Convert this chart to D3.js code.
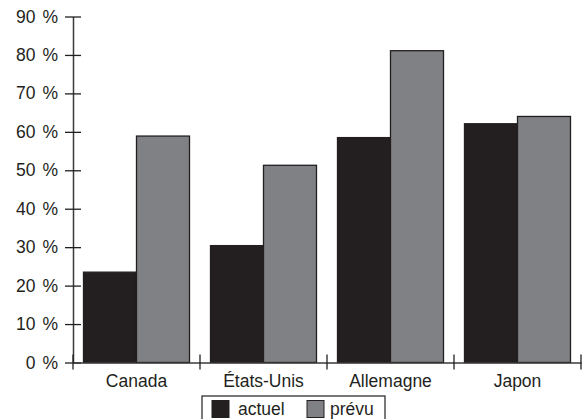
<!DOCTYPE html>
<html>
<head>
<meta charset="utf-8">
<script src="https://cdn.jsdelivr.net/npm/d3@7"></script>
<style>
  html, body { margin: 0; padding: 0; background: #fff; }
  svg { display: block; font-family: "Liberation Sans", Arial, sans-serif; }
</style>
</head>
<body>
<svg id="chart" width="586" height="419"></svg>
<script>
// Categories and series (values in %)
const categories = ["Canada", "États-Unis", "Allemagne", "Japon"];
const seriesNames = ["actuel", "prévu"];
const actuel = [23.5, 30.4, 58.5, 62.1];
const prevu = [58.9, 51.3, 81.1, 64.0];
const yTicks = [0, 10, 20, 30, 40, 50, 60, 70, 80, 90];

const ink = "#231f20";
const colors = { "actuel": "#231f20", "prévu": "#808184" };

const svg = d3.select("#chart");
const x0 = 73, x1 = 581, yBottom = 362.5, yTop = 16.5;

const x = d3.scaleBand().domain(categories).range([x0, x1]).padding(0);
const xSub = d3.scaleBand().domain(seriesNames)
  .range([10.5, x.bandwidth() - 10.5]).padding(0);
const y = d3.scaleLinear().domain([0, 90]).range([yBottom, yTop]);

const rows = categories.map((c, i) => ({ cat: c, vals: [
  { key: "actuel", v: actuel[i] }, { key: "prévu", v: prevu[i] } ] }));

// Bars
const g = svg.append("g");
const groups = g.selectAll("g.cat").data(rows).join("g")
  .attr("transform", d => `translate(${x(d.cat)},0)`);
groups.selectAll("rect").data(d => d.vals).join("rect")
  .attr("x", d => xSub(d.key))
  .attr("y", d => y(d.v))
  .attr("width", xSub.bandwidth())
  .attr("height", d => y(0) - y(d.v))
  .attr("fill", d => colors[d.key])
  .attr("stroke", ink)
  .attr("stroke-width", 1.3);

// Y axis
const yAxis = d3.axisLeft(y).tickValues(yTicks)
  .tickFormat(d => d + "\u2009\u2009%").tickSize(0).tickPadding(15);
const ya = svg.append("g").attr("transform", `translate(${x0},0)`).call(yAxis);
ya.select(".domain").attr("stroke", "#3a3a3a").attr("stroke-width", 1.5);
ya.selectAll(".tick line").attr("x1", -8).attr("x2", 8)
  .attr("stroke", ink).attr("stroke-width", 1.3);
ya.selectAll(".tick text").attr("font-size", 17.5).attr("fill", ink)
  .attr("font-family", "Liberation Sans, Arial, sans-serif");

// X axis with boundary ticks between categories
const xAxis = d3.axisBottom(x).tickSize(0).tickPadding(12);
const xa = svg.append("g").attr("transform", `translate(0,${yBottom})`).call(xAxis);
xa.select(".domain").attr("stroke", "#3a3a3a").attr("stroke-width", 1.5);
xa.selectAll(".tick text").attr("font-size", 17.5).attr("fill", ink)
  .attr("font-family", "Liberation Sans, Arial, sans-serif");
const bounds = categories.map(c => x(c) + x.bandwidth()).concat([x0]);
xa.selectAll("line.bound").data(bounds).join("line")
  .attr("class", "bound")
  .attr("x1", d => d).attr("x2", d => d)
  .attr("y1", -8).attr("y2", 7)
  .attr("stroke", ink).attr("stroke-width", 1.3);

// Legend
const lg = svg.append("g").attr("transform", "translate(202,396)");
lg.append("rect").attr("x", 0).attr("y", 0).attr("width", 183).attr("height", 30)
  .attr("fill", "#fff").attr("stroke", ink).attr("stroke-width", 1.2);
const items = [
  { key: "actuel", sx: 10, tx: 36 },
  { key: "prévu", sx: 105, tx: 128 }
];
items.forEach(it => {
  lg.append("rect").attr("x", it.sx).attr("y", 4.5).attr("width", 17).attr("height", 17)
    .attr("fill", colors[it.key]).attr("stroke", ink).attr("stroke-width", 1);
  lg.append("text").attr("x", it.tx).attr("y", 19).attr("font-size", 17.5)
    .attr("fill", ink).text(it.key);
});
</script>
</body>
</html>
